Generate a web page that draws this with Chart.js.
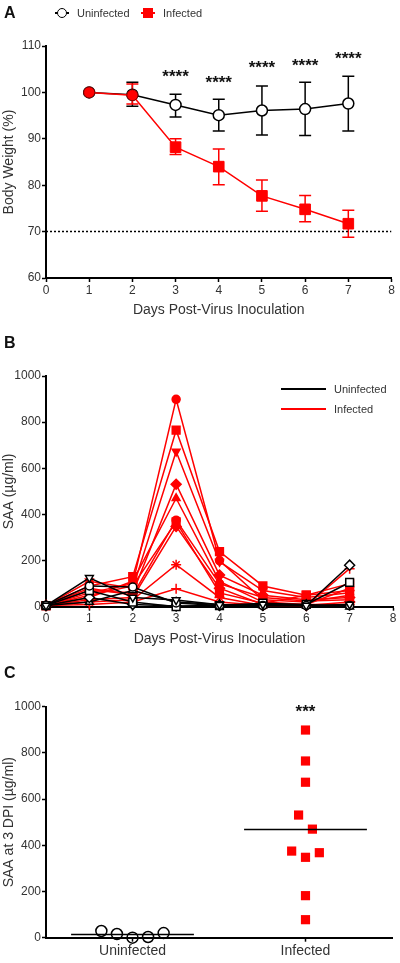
<!DOCTYPE html>
<html lang="en">
<head>
<meta charset="UTF-8">
<title>Body weight and SAA</title>
<script src="https://cdn.jsdelivr.net/npm/chart.js@4.4.0/dist/chart.umd.min.js"></script>
<style>
  body { margin:0; width:400px; height:963px; position:relative; background:#fff;
         font-family:"Liberation Sans", Arial, sans-serif; color:#333; overflow:hidden; }
  .panel { position:absolute; left:0; width:400px; }
  .letter { position:absolute; left:4px; font-weight:bold; font-size:16px; line-height:16px; color:#111; }
  .key { position:absolute; display:flex; align-items:center; height:16px; font-size:11px; line-height:16px; }
  .sym { position:relative; width:14px; height:14px; margin-right:8px; }
  .sym .ln { position:absolute; left:0; right:0; top:6.25px; height:1.5px; }
  .sym .dot { position:absolute; left:2px; top:2px; width:10px; height:10px; box-sizing:border-box;
              border:1.5px solid #000; border-radius:50%; background:#fff; }
  .sym .sq { position:absolute; left:2px; top:2px; width:10px; height:10px; background:#ff0000; }
  .bar { width:45px; height:2px; margin-right:8px; }
</style>
</head>
<body>
<div class="panel" style="top:0;height:330px"><canvas id="chartA" width="400" height="330"></canvas></div>
<div class="panel" style="top:330px;height:330px"><canvas id="chartB" width="400" height="330"></canvas></div>
<div class="panel" style="top:660px;height:303px"><canvas id="chartC" width="400" height="303"></canvas></div>

<div class="letter" style="top:5px">A</div>
<div class="letter" style="top:335px">B</div>
<div class="letter" style="top:665px">C</div>

<div class="key" style="top:5px;left:55px"><span class="sym"><i class="ln" style="background:#000"></i><i class="dot"></i></span>Uninfected</div>
<div class="key" style="top:5px;left:141px"><span class="sym"><i class="ln" style="background:#ff0000"></i><i class="sq"></i></span>Infected</div>

<div class="key" style="top:381px;left:281px"><span class="bar" style="background:#000"></span>Uninfected</div>
<div class="key" style="top:401px;left:281px"><span class="bar" style="background:#ff0000"></span>Infected</div>

<script>
// ---- panel A: body weight (mean with error bars)
const days = [1, 2, 3, 4, 5, 6, 7];
const uninfMean = [100, 99.5, 97.3, 95.1, 96.1, 96.4, 97.6];
const uninfHigh = [100, 102.2, 99.6, 98.5, 101.4, 102.2, 103.5];
const uninfLow  = [100, 97.0, 94.7, 91.7, 90.8, 90.7, 91.7];
const infMean = [100, 99.4, 88.2, 84.0, 77.7, 74.8, 71.7];
const infHigh = [100, 101.8, 90.0, 87.8, 81.1, 77.8, 74.6];
const infLow  = [100, 97.5, 86.6, 80.1, 74.4, 72.1, 68.8];
const starY = [null, null, 104.5, 103.2, 106.3, 106.7, 108.2];
const cutoff = 70;

// ---- panel B: SAA per mouse, days 0-7
const saaDays = [0, 1, 2, 3, 4, 5, 6, 7];
const uninfectedMice = [
  [5, 125, 40, 29, 8, 10, 5, 10],
  [5, 90, 85, 16, 5, 5, 5, 5],
  [5, 70, 20, 0, 5, 15, 10, 105],
  [5, 40, 10, 3, 5, 5, 5, 180],
  [5, 20, 70, 20, 10, 5, 10, 0]
];
const uninfectedShapes = ['triangleDown', 'circle', 'rect', 'rectRot', 'triangle'];
const infectedMice = [
  [5, 60, 100, 899, 200, 30, 20, 50],
  [5, 90, 130, 765, 239, 90, 50, 70],
  [5, 110, 80, 673, 195, 70, 40, 60],
  [5, 70, 60, 531, 137, 50, 30, 40],
  [5, 40, 110, 470, 110, 20, 10, 80],
  [5, 80, 50, 375, 100, 40, 25, 30],
  [5, 50, 90, 368, 60, 15, 50, 100],
  [5, 30, 40, 348, 80, 10, 5, 20],
  [5, 20, 30, 182, 40, 5, 10, 10],
  [5, 10, 20, 78, 20, 5, 5, 165]
];
const infectedShapes = ['circle', 'rect', 'triangleDown', 'rectRot', 'triangle', 'circle', 'rect', 'rectRot', 'star', 'cross'];

// ---- panel C: SAA at 3 DPI (taken from day 3 of panel B)
const groups = ['Uninfected', 'Infected'];
const uninfJitter = [-0.18, -0.09, 0, 0.09, 0.18];
const infJitter = [0, 0, 0, -0.04, 0.04, -0.08, 0.08, 0, 0, 0];
const sigC = '***';

const RED = '#ff0000';
const FONT = '"Liberation Sans", Arial, sans-serif';
Chart.defaults.font.family = FONT;
Chart.defaults.color = '#333';

function axis(extra) {
  return Object.assign({
    border: { display: true, color: '#000', width: 2 },
    grid: { drawOnChartArea: false, drawTicks: true, color: '#000', tickLength: 4, tickWidth: 1.5 },
  }, extra);
}
function ticks(step) {
  // plain numbers, no thousands separator
  return { stepSize: step, font: { size: 12 }, color: '#333', padding: 1, callback: v => String(v) };
}
function yTitle(text) {
  return { display: true, text: text, font: { size: 14 }, color: '#333', padding: { top: 1, bottom: 0 } };
}
function shape(name) {
  if (name === 'triangleDown') return { pointStyle: 'triangle', rotation: 180, r: 4.5 };
  const r = { rect: 5.5, rectRot: 5, circle: 4, triangle: 4.5, star: 5, cross: 5 }[name];
  return { pointStyle: name, rotation: 0, r: r };
}
const base = {
  responsive: false,
  animation: false,
  plugins: { legend: { display: false }, tooltip: { enabled: false } }
};

// ---------- A
const errorBars = {
  id: 'errorBars',
  beforeDatasetsDraw(chart) {
    const { ctx, scales: { x, y } } = chart;
    [[uninfLow, uninfHigh, '#000'], [infLow, infHigh, RED]].forEach(([lo, hi, col]) => {
      ctx.save();
      ctx.strokeStyle = col;
      ctx.lineWidth = 1.5;
      days.forEach((d, i) => {
        const px = x.getPixelForValue(d), t = y.getPixelForValue(hi[i]), b = y.getPixelForValue(lo[i]);
        ctx.beginPath();
        ctx.moveTo(px, t); ctx.lineTo(px, b);
        ctx.moveTo(px - 6, t); ctx.lineTo(px + 6, t);
        ctx.moveTo(px - 6, b); ctx.lineTo(px + 6, b);
        ctx.stroke();
      });
      ctx.restore();
    });
  },
  afterDatasetsDraw(chart) {
    const { ctx, scales: { x, y } } = chart;
    ctx.save();
    ctx.fillStyle = '#111';
    ctx.font = 'bold 17px ' + FONT;
    ctx.textAlign = 'center';
    ctx.textBaseline = 'alphabetic';
    days.forEach((d, i) => {
      if (starY[i] == null) return;
      ctx.fillText('****', x.getPixelForValue(d), y.getPixelForValue(starY[i]) + 10);
    });
    ctx.restore();
  }
};

new Chart(document.getElementById('chartA'), {
  type: 'line',
  data: {
    datasets: [
      {
        data: days.map((d, i) => ({ x: d, y: infMean[i] })),
        borderColor: RED, borderWidth: 1.5,
        pointStyle: days.map(d => d < 3 ? 'circle' : 'rect'),
        pointRadius: days.map(d => d < 3 ? 5.5 : 7.5),
        pointBackgroundColor: RED,
        pointBorderColor: days.map(d => d < 3 ? '#8a0000' : RED),
        pointBorderWidth: 1
      },
      {
        data: days.map((d, i) => ({ x: d, y: uninfMean[i] })),
        borderColor: '#000', borderWidth: 1.5,
        pointStyle: 'circle', pointRadius: 5.5,
        pointBackgroundColor: '#fff', pointBorderColor: '#000', pointBorderWidth: 1.5
      },
      {
        data: [{ x: 0, y: cutoff }, { x: 8, y: cutoff }],
        borderColor: '#000', borderWidth: 1.5, borderDash: [2, 2], pointRadius: 0
      }
    ]
  },
  options: Object.assign({}, base, {
    layout: { padding: { top: 46, right: 6, left: 0, bottom: 0 } },
    scales: {
      x: axis({
        type: 'linear', min: 0, max: 8,
        ticks: ticks(1),
        title: { display: true, text: 'Days Post-Virus Inoculation', font: { size: 14 }, color: '#333', padding: { top: 0, bottom: 11.6 } },
        afterFit: s => { s.height = 52; }
      }),
      y: axis({
        min: 60, max: 110,
        ticks: ticks(10),
        title: yTitle('Body Weight (%)'),
        afterFit: s => { s.width = 46; }
      })
    }
  }),
  plugins: [errorBars]
});

// ---------- B
function mouseSet(values, name, col, fill) {
  const s = shape(name);
  return {
    data: saaDays.map((d, i) => ({ x: d, y: values[i] })),
    borderColor: col, borderWidth: 1.5,
    pointStyle: s.pointStyle, pointRotation: s.rotation, pointRadius: s.r,
    pointBackgroundColor: fill, pointBorderColor: col, pointBorderWidth: 1.5,
    clip: false
  };
}
const setsB = [];
uninfectedMice.forEach((m, i) => setsB.push(mouseSet(m, uninfectedShapes[i], '#000', '#fff')));
infectedMice.forEach((m, i) => setsB.push(mouseSet(m, infectedShapes[i], RED, RED)));

new Chart(document.getElementById('chartB'), {
  type: 'line',
  data: { datasets: setsB },
  options: Object.assign({}, base, {
    layout: { padding: { top: 46, right: 6, left: 0, bottom: 0 } },
    scales: {
      x: axis({
        type: 'linear', min: 0, max: 8,
        ticks: ticks(1),
        title: { display: true, text: 'Days Post-Virus Inoculation', font: { size: 14 }, color: '#333', padding: { top: 0, bottom: 12.8 } },
        afterFit: s => { s.height = 53.3; }
      }),
      y: axis({
        min: 0, max: 1000,
        ticks: ticks(200),
        title: yTitle('SAA (µg/ml)'),
        afterFit: s => { s.width = 46; }
      })
    }
  })
});

// ---------- C
const uninfDay3 = uninfectedMice.map(m => m[3]);
const infDay3 = infectedMice.map(m => m[3]);
const mean = a => a.reduce((p, v) => p + v, 0) / a.length;
const halfLine = 0.355;

const sigPlugin = {
  id: 'sigC',
  afterDatasetsDraw(chart) {
    const { ctx, scales: { x, y } } = chart;
    ctx.save();
    ctx.fillStyle = '#111';
    ctx.font = 'bold 17px ' + FONT;
    ctx.textAlign = 'center';
    ctx.fillText(sigC, x.getPixelForValue(2), y.getPixelForValue(1000) + 10);
    ctx.restore();
  }
};

new Chart(document.getElementById('chartC'), {
  type: 'scatter',
  data: {
    datasets: [
      {
        type: 'line', data: [{ x: 1 - halfLine, y: mean(uninfDay3) }, { x: 1 + halfLine, y: mean(uninfDay3) }],
        borderColor: '#000', borderWidth: 1.5, pointRadius: 0
      },
      {
        type: 'line', data: [{ x: 2 - halfLine, y: mean(infDay3) }, { x: 2 + halfLine, y: mean(infDay3) }],
        borderColor: '#000', borderWidth: 1.5, pointRadius: 0
      },
      {
        data: uninfDay3.map((v, i) => ({ x: 1 + uninfJitter[i], y: v })),
        pointStyle: 'circle', pointRadius: 5.5,
        pointBackgroundColor: 'rgba(255,255,255,0)', pointBorderColor: '#000', pointBorderWidth: 1.5,
        clip: false
      },
      {
        data: infDay3.map((v, i) => ({ x: 2 + infJitter[i], y: v })),
        pointStyle: 'rect', pointRadius: 6.5,
        pointBackgroundColor: RED, pointBorderColor: RED, pointBorderWidth: 0,
        clip: false
      }
    ]
  },
  options: Object.assign({}, base, {
    layout: { padding: { top: 46.7, right: 8, left: 0, bottom: 0 } },
    scales: {
      x: axis({
        type: 'linear', min: 0.5, max: 2.5,
        afterBuildTicks: s => { s.ticks = [{ value: 1 }, { value: 2 }]; },
        ticks: { font: { size: 14 }, color: '#333', padding: 1, callback: v => groups[v - 1] },
        afterFit: s => { s.height = 25.3; }
      }),
      y: axis({
        min: 0, max: 1000,
        ticks: ticks(200),
        title: yTitle('SAA at 3 DPI (µg/ml)'),
        afterFit: s => { s.width = 46; }
      })
    }
  }),
  plugins: [sigPlugin]
});
</script>
</body>
</html>
